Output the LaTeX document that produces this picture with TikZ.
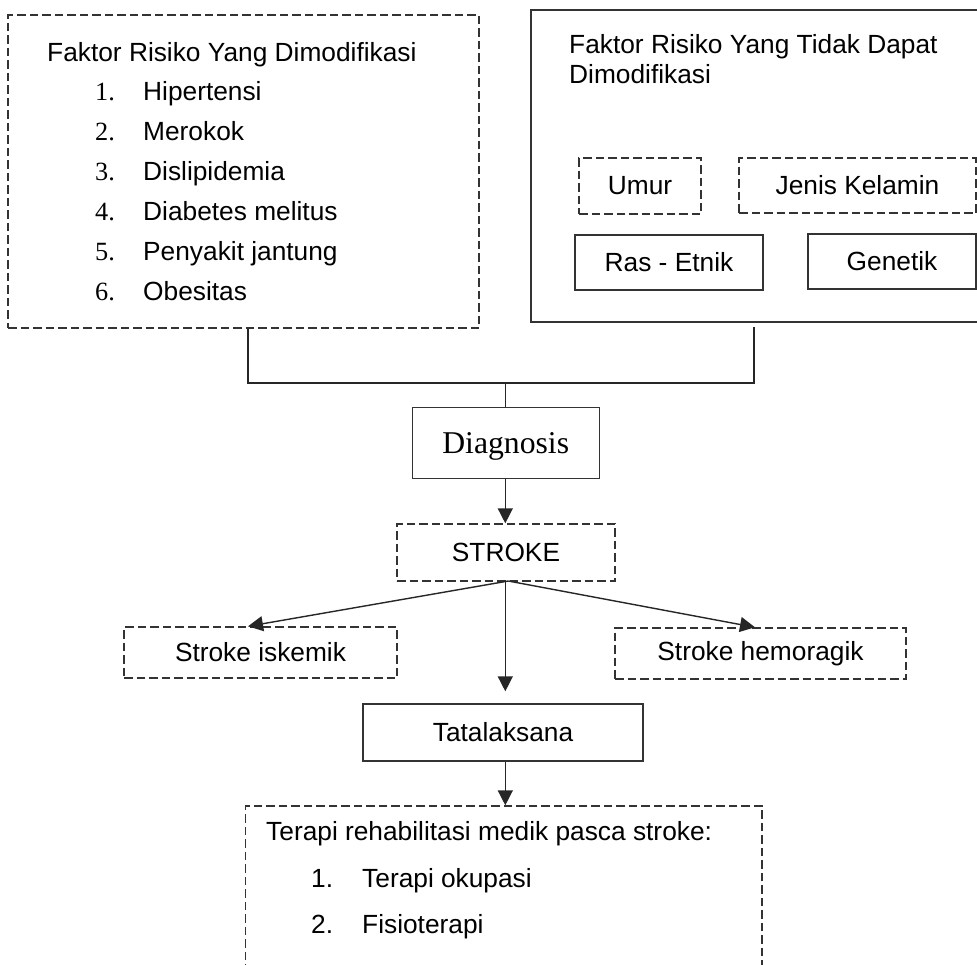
\documentclass[tikz,border=0pt]{standalone}
\usepackage{fontspec}
\setmainfont{Liberation Sans}
\newfontfamily\serifnum{Liberation Serif}
\usetikzlibrary{arrows.meta}
\tikzset{
  box/.style={draw=black!80, line width=1.4pt, inner sep=0pt, font=\fontsize{26.3}{30}\selectfont},
  dbox/.style={box, dash pattern=on 8.5pt off 4pt},
  txt/.style={inner sep=0pt, anchor=base west, font=\fontsize{26.3}{30}\selectfont},
  numtxt/.style={inner sep=0pt, anchor=base west, font=\serifnum\fontsize{26.3}{30}\selectfont},
  conn/.style={draw=black!85, line width=1.4pt},
  arr/.style={conn, -{Triangle[length=15pt,width=15pt]}}
}
\begin{document}
\begin{tikzpicture}[x=1pt,y=-1pt]
\useasboundingbox (0,0) rectangle (977,964);
\clip (0,0) rectangle (977,964);
% top-left box
\node[dbox, minimum width=471pt, minimum height=313pt] (lt) at (243.5,171.5) {};
\node[txt] (ltt) at (47,61) {Faktor Risiko Yang Dimodifikasi};
\foreach \i/\t [count=\k from 0] in {1/Hipertensi,2/Merokok,3/Dislipidemia,4/Diabetes melitus,5/Penyakit jantung,6/Obesitas}{
  \node[numtxt] (ln\i) at (95,100+40*\k) {\i.};
  \node[txt] (li\i) at (143,100+40*\k) {\t};
}
% top-right box
\node[box, minimum width=459pt, minimum height=312pt] (rt) at (760.5,166) {};
\node[txt] (rtt1) at (569,53.3) {Faktor Risiko Yang Tidak Dapat};
\node[txt] (rtt2) at (569,83.3) {Dimodifikasi};
\node[dbox, minimum width=122pt, minimum height=56pt] (umur) at (640,186) {Umur};
\node[dbox, minimum width=237pt, minimum height=55pt] (jk) at (857.5,185.5) {Jenis Kelamin};
\node[box, minimum width=188pt, minimum height=55pt] (ras) at (669,262.5) {Ras - Etnik};
\node[box, minimum width=168pt, minimum height=55pt] (gen) at (892,261.5) {Genetik};
% center chain
\node[box, minimum width=187pt, minimum height=71pt, text depth=0pt, font=\serifnum\fontsize{31.7}{36}\selectfont] (diag) at (505.7,443) {Diagnosis};
\node[dbox, minimum width=218pt, minimum height=57pt] (stroke) at (506,552.5) {STROKE};
\node[dbox, minimum width=273pt, minimum height=51pt] (isk) at (260.5,652.5) {Stroke iskemik};
\node[dbox, minimum width=291pt, minimum height=51pt] (hem) at (760.5,653.5) {Stroke hemoragik};
\node[box, minimum width=280pt, minimum height=57pt] (tata) at (503,732.5) {Tatalaksana};
% bottom box (open at the bottom, cut by the frame)
\node[dbox, minimum width=516.3pt, minimum height=184pt] (bot) at (503.85,898) {};
\node[txt] (bott) at (266,840) {Terapi rehabilitasi medik pasca stroke:};
\node[txt] (bn1) at (311,887) {1.};
\node[txt] (bi1) at (362,887) {Terapi okupasi};
\node[txt] (bn2) at (311,933) {2.};
\node[txt] (bi2) at (362,933) {Fisioterapi};
% connectors
\coordinate (j1) at (248,383);
\coordinate (j2) at (754,383);
\coordinate (j0) at (505.3,383);
\coordinate (sb) at (508.3,581);
\draw[conn] (lt.south -| j1) -- (j1) -- (j2) -- ([yshift=-4pt]rt.south -| j2);
\draw[conn] (j0) -- (diag.north -| j0);
\draw[arr] (diag.south -| j0) -- (stroke.north -| j0);
\draw[arr] (sb) -- ([xshift=-12.5pt]isk.north);
\draw[arr] (sb) -- ([xshift=-5.5pt]hem.north);
\draw[arr, shorten >=12pt] (stroke.south -| j0) -- (tata.north -| j0);
\draw[arr] (tata.south -| j0) -- (bot.north -| j0);
\end{tikzpicture}
\end{document}
